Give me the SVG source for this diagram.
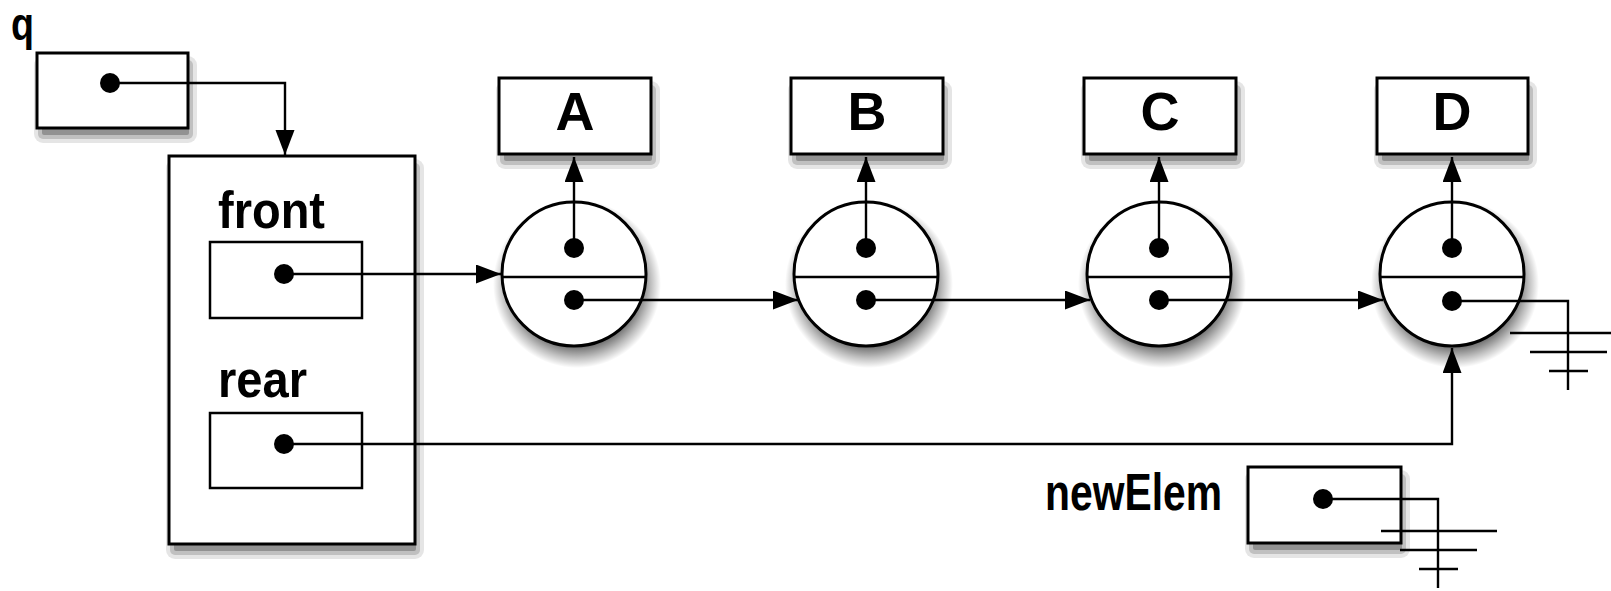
<svg xmlns="http://www.w3.org/2000/svg" width="1611" height="591" viewBox="0 0 1611 591">
<style>
.box{fill:#fff;stroke:#000;stroke-width:3}
.inner{fill:#fff;stroke:#000;stroke-width:2.5}
.circ{fill:#fff;stroke:#000;stroke-width:3}
.div{stroke:#000;stroke-width:2.5}
.dot{fill:#000}
.ln{fill:none;stroke:#000;stroke-width:2.4}
.arr{fill:none;stroke:#000;stroke-width:2.4;marker-end:url(#ah)}
.lbl{font-family:"Liberation Sans",Arial,sans-serif;font-weight:bold;fill:#000}
.s1{fill:#000;fill-opacity:0.1}
.s2{fill:#000;fill-opacity:0.16}
.s3{fill:#000;fill-opacity:0.24}
.cs{fill:url(#cshadow)}
</style>
<defs>
<radialGradient id="cshadow" cx="0.5" cy="0.5" r="0.5">
<stop offset="0.75" stop-color="#000" stop-opacity="0.55"/>
<stop offset="0.88" stop-color="#000" stop-opacity="0.25"/>
<stop offset="1" stop-color="#000" stop-opacity="0"/>
</radialGradient>
<marker id="ah" markerUnits="userSpaceOnUse" markerWidth="26" markerHeight="20" refX="25" refY="9.5" orient="auto">
<path d="M0,0 L25,9.5 L0,19 z" fill="#000"/>
</marker>
</defs>

<g id="shadows">
<rect class="s1" x="34" y="56" width="163" height="87" rx="9"/>
<rect class="s2" x="38" y="60" width="155" height="79" rx="5"/>
<rect class="s3" x="42" y="64" width="147" height="71" rx="2"/>

<rect class="s1" x="166" y="159" width="258" height="400" rx="9"/>
<rect class="s2" x="170" y="163" width="250" height="392" rx="5"/>
<rect class="s3" x="174" y="167" width="242" height="384" rx="2"/>

<rect class="s1" x="496" y="81" width="164" height="88" rx="9"/>
<rect class="s2" x="500" y="85" width="156" height="80" rx="5"/>
<rect class="s3" x="504" y="89" width="148" height="72" rx="2"/>

<rect class="s1" x="788" y="81" width="164" height="88" rx="9"/>
<rect class="s2" x="792" y="85" width="156" height="80" rx="5"/>
<rect class="s3" x="796" y="89" width="148" height="72" rx="2"/>

<rect class="s1" x="1081" y="81" width="164" height="88" rx="9"/>
<rect class="s2" x="1085" y="85" width="156" height="80" rx="5"/>
<rect class="s3" x="1089" y="89" width="148" height="72" rx="2"/>

<rect class="s1" x="1374" y="81" width="163" height="88" rx="9"/>
<rect class="s2" x="1378" y="85" width="155" height="80" rx="5"/>
<rect class="s3" x="1382" y="89" width="147" height="72" rx="2"/>

<rect class="s1" x="1245" y="470" width="165" height="88" rx="9"/>
<rect class="s2" x="1249" y="474" width="157" height="80" rx="5"/>
<rect class="s3" x="1253" y="478" width="149" height="72" rx="2"/>

<circle class="cs" cx="577" cy="284" r="84"/>
<circle class="cs" cx="869" cy="284" r="84"/>
<circle class="cs" cx="1162" cy="284" r="84"/>
<circle class="cs" cx="1455" cy="284" r="84"/>
</g>

<g id="q-var">
<text class="lbl" x="11" y="40" font-size="46" textLength="23" lengthAdjust="spacingAndGlyphs">q</text>
<rect class="box" x="37" y="53" width="151" height="75"/>
<circle class="dot" cx="110" cy="83" r="10"/>
</g>

<g id="queue">
<rect class="box" x="169" y="156" width="246" height="388"/>
<text class="lbl" x="218" y="228" font-size="52" textLength="107" lengthAdjust="spacingAndGlyphs">front</text>
<rect class="inner" x="210" y="242" width="152" height="76"/>
<circle class="dot" cx="284" cy="274" r="10"/>
<text class="lbl" x="218" y="397" font-size="52" textLength="89" lengthAdjust="spacingAndGlyphs">rear</text>
<rect class="inner" x="210" y="413" width="152" height="75"/>
<circle class="dot" cx="284" cy="444" r="10"/>
</g>

<g id="value-A">
<rect class="box" x="499" y="78" width="152" height="76"/>
<text class="lbl" x="575" y="130" font-size="54" text-anchor="middle">A</text>
</g>
<g id="value-B">
<rect class="box" x="791" y="78" width="152" height="76"/>
<text class="lbl" x="867" y="130" font-size="54" text-anchor="middle">B</text>
</g>
<g id="value-C">
<rect class="box" x="1084" y="78" width="152" height="76"/>
<text class="lbl" x="1160" y="130" font-size="54" text-anchor="middle">C</text>
</g>
<g id="value-D">
<rect class="box" x="1377" y="78" width="151" height="76"/>
<text class="lbl" x="1452" y="130" font-size="54" text-anchor="middle">D</text>
</g>

<g id="cell-A">
<circle class="circ" cx="574" cy="274" r="72"/>
<line class="div" x1="502" y1="277" x2="646" y2="277"/>
<circle class="dot" cx="574" cy="248" r="10"/>
<circle class="dot" cx="574" cy="300" r="10"/>
</g>
<g id="cell-B">
<circle class="circ" cx="866" cy="274" r="72"/>
<line class="div" x1="794" y1="277" x2="938" y2="277"/>
<circle class="dot" cx="866" cy="248" r="10"/>
<circle class="dot" cx="866" cy="300" r="10"/>
</g>
<g id="cell-C">
<circle class="circ" cx="1159" cy="274" r="72"/>
<line class="div" x1="1087" y1="277" x2="1231" y2="277"/>
<circle class="dot" cx="1159" cy="248" r="10"/>
<circle class="dot" cx="1159" cy="300" r="10"/>
</g>
<g id="cell-D">
<circle class="circ" cx="1452" cy="274" r="72"/>
<line class="div" x1="1380" y1="277" x2="1524" y2="277"/>
<circle class="dot" cx="1452" cy="248" r="10"/>
<circle class="dot" cx="1452" cy="301" r="10"/>
</g>

<g id="newElem">
<text class="lbl" x="1045" y="510" font-size="52" textLength="177" lengthAdjust="spacingAndGlyphs">newElem</text>
<rect class="box" x="1248" y="467" width="153" height="76"/>
<circle class="dot" cx="1323" cy="499" r="10"/>
</g>

<g id="connectors">
<path class="arr" d="M110,83 H285 V155"/>
<path class="arr" d="M284,274 H501"/>
<path class="arr" d="M284,444 H1452 V348"/>
<path class="arr" d="M574,300 H798"/>
<path class="arr" d="M866,300 H1090"/>
<path class="arr" d="M1159,300 H1383"/>
<path class="arr" d="M574,248 V157"/>
<path class="arr" d="M866,248 V157"/>
<path class="arr" d="M1159,248 V157"/>
<path class="arr" d="M1452,248 V157"/>
<path class="ln" d="M1452,301 H1568 V390"/>
<path class="ln" d="M1510,333 H1626 M1530,352 H1607 M1549,371 H1588"/>
<path class="ln" d="M1323,499 H1438 V588"/>
<path class="ln" d="M1381,531 H1497 M1400,550 H1477 M1419,569 H1458"/>
</g>
</svg>
